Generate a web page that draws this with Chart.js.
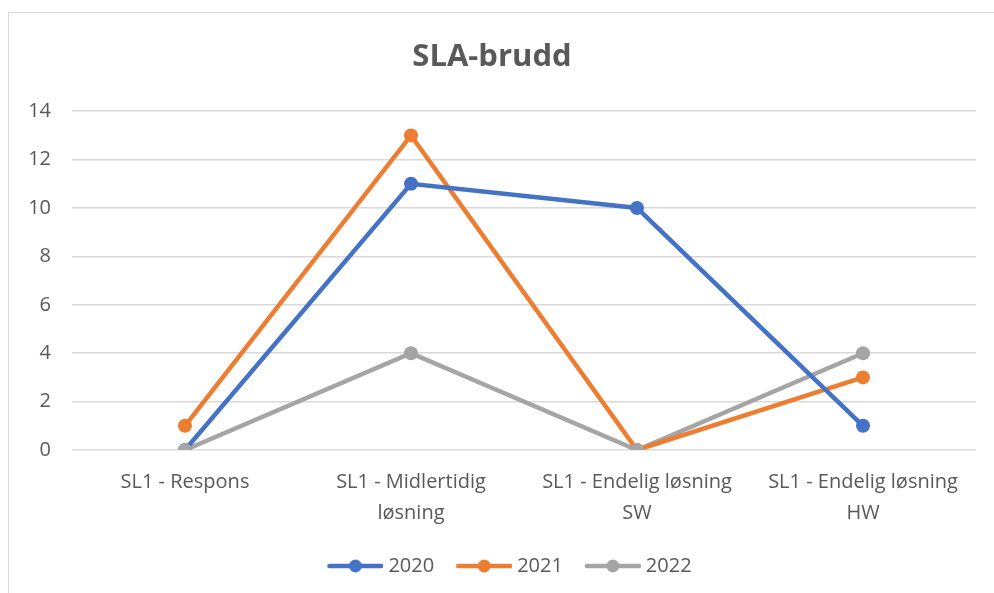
<!DOCTYPE html>
<html><head><meta charset="utf-8">
<script src="https://cdn.jsdelivr.net/npm/chart.js@4/dist/chart.umd.min.js"></script>
<style>
html,body{margin:0;padding:0;background:#fff;}
#wrap{position:absolute;left:0;top:0;width:994px;height:593px;}
#frame{position:absolute;left:8px;top:12px;width:1000px;height:700px;border:1.5px solid #d9d9d9;box-sizing:border-box;pointer-events:none;}
</style></head>
<body>
<div id="wrap"><canvas id="c" width="994" height="593"></canvas><div id="frame"></div></div>
<script>
const categories = [["SL1 - Respons"], ["SL1 - Midlertidig", "løsning"], ["SL1 - Endelig løsning", "SW"], ["SL1 - Endelig løsning", "HW"]];
const seriesNames = ["2020", "2021", "2022"];
const values2020 = [0, 11, 10, 1];
const values2021 = [1, 13, 0, 3];
const values2022 = [0, 4, 0, 4];
const colors = ["#4472C4", "#ED7D31", "#A5A5A5"];
const yTicks = [0, 2, 4, 6, 8, 10, 12, 14];

function legendIcon(color){
  const c = document.createElement('canvas');
  c.width = 66; c.height = 16;
  const g = c.getContext('2d');
  g.strokeStyle = color; g.lineWidth = 4.5; g.lineCap='round';
  g.beginPath(); g.moveTo(12,8); g.lineTo(64,8); g.stroke();
  g.fillStyle = color; g.beginPath(); g.arc(38,8,6.5,0,Math.PI*2); g.fill();
  return c;
}

const allValues = [values2020, values2021, values2022];
// lines (blue drawn on top of the other lines, like the reference)
const lineSets = seriesNames.map((n,i)=>({
  label:n, data:allValues[i], borderColor:colors[i], backgroundColor:colors[i],
  borderWidth:4.5, pointRadius:0, pointHoverRadius:0, tension:0, fill:false, order:10
}));
// markers drawn after all lines, later series on top
const markerSets = seriesNames.map((n,i)=>({
  label:n + " markers", data:allValues[i], borderColor:colors[i], backgroundColor:colors[i],
  showLine:false, pointRadius:7, pointHoverRadius:7, pointBorderWidth:0,
  pointStyle:'circle', order:3 - i
}));
const datasets = lineSets.concat(markerSets);
const icons = colors.map(legendIcon);

const FF = "'Open Sans', Lato, sans-serif";
Chart.defaults.font.family = FF;
Chart.defaults.color = "#595959";

const chart = new Chart(document.getElementById('c'), {
  type:'line',
  data:{labels:categories, datasets},
  options:{
    responsive:false, animation:false, devicePixelRatio:1,
    layout:{padding:{left:8, right:18, top:12, bottom:7}},
    plugins:{
      title:{display:true, text:"SLA-brudd", color:"#595959",
        font:{size:31, weight:'bold', family:FF}, padding:{top:27, bottom:35}},
      legend:{position:'bottom',
        labels:{usePointStyle:true, pointStyleWidth:56, color:"#595959", font:{size:20}, padding:17,
          generateLabels:(chart)=>seriesNames.map((n,i)=>({
            text:n, fillStyle:colors[i], strokeStyle:colors[i], lineWidth:0,
            pointStyle:icons[i], hidden:false, datasetIndex:i, fontColor:"#595959"
          }))
        }},
      tooltip:{enabled:false}
    },
    scales:{
      x:{
        offset:true,
        grid:{display:false}, border:{display:false},
        ticks:{color:"#595959", font:{size:20, lineHeight:1.55}, maxRotation:0, autoSkip:false, padding:9},
        afterFit:(s)=>{s.height = 89;}
      },
      y:{
        min:0, max:14,
        afterBuildTicks:(s)=>{s.ticks = yTicks.map(v=>({value:v}));},
        grid:{color:"#d9d9d9", lineWidth:1.5, drawTicks:false},
        border:{display:false},
        ticks:{color:"#595959", font:{size:20}, padding:21},
        afterFit:(s)=>{s.width = 64;}
      }
    }
  }
});
// shift legend to be centred like the reference
const origLegendDraw = chart.legend.draw;
chart.legend.draw = function(){
  const ctx = this.ctx;
  ctx.save(); ctx.translate(15, 0);
  origLegendDraw.apply(this, arguments);
  ctx.restore();
};
chart.draw();
</script>
</body></html>
